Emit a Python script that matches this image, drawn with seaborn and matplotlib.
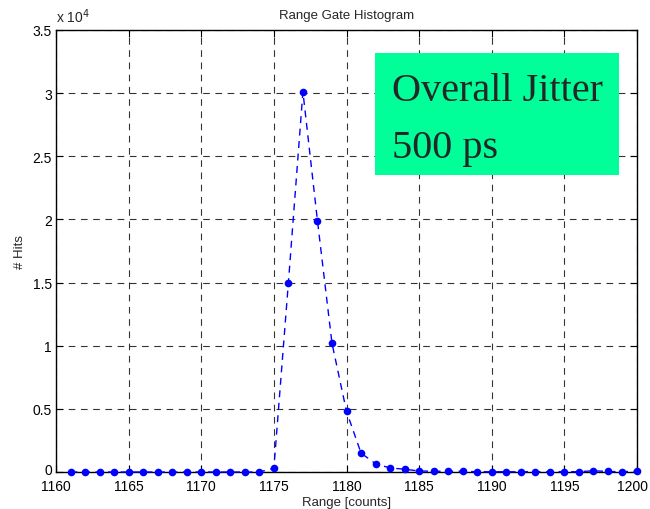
import matplotlib
matplotlib.use("Agg")
import matplotlib.pyplot as plt
import matplotlib.transforms as mtransforms
import seaborn as sns
import pandas as pd

# Range gate bins and hit counts
range_counts = list(range(1161, 1201))
hits = [0, 0, 0, 0, 0, 0, 0, 0, 0, 0, 0, 0, 0, 0,
        300, 15000, 30100, 19900, 10200, 4800, 1500, 650, 320, 220,
        80, 60, 60, 60, 20, 20, 20, 20, 20, 20, 30, 20, 100, 40, 20, 80]
y_ticks = [0, 5000, 10000, 15000, 20000, 25000, 30000, 35000]
y_tick_labels = ["0", "0.5", "1", "1.5", "2", "2.5", "3", "3.5"]
x_ticks = [1160, 1165, 1170, 1175, 1180, 1185, 1190, 1195, 1200]

df = pd.DataFrame({"range": range_counts, "hits": hits})

sns.set_theme(style="white")
plt.rcParams["font.family"] = ["Liberation Sans", "DejaVu Sans"]

fig = plt.figure(figsize=(6.5, 5.1), dpi=100)
ax = fig.add_axes([56 / 650, 1 - 473 / 510, (637 - 56) / 650, (473 - 31) / 510])

sns.lineplot(data=df, x="range", y="hits", ax=ax, color="#0000ff",
             linestyle=(0, (5, 4)), linewidth=1.0, marker="o",
             markersize=5.5, markeredgewidth=0, clip_on=False, zorder=3)

ax.set_xlim(1160, 1200)
ax.set_ylim(0, 35000)
ax.set_xticks(x_ticks)
ax.set_xticklabels([str(t) for t in x_ticks])
ax.set_yticks(y_ticks)
ax.set_yticklabels(y_tick_labels)
ax.tick_params(direction="in", length=5, width=0.8, colors="black",
               labelsize=10, top=True, right=True, bottom=True, left=True)
ax.tick_params(axis="x", pad=5)
ax.tick_params(axis="y", pad=3)
for s in ax.spines.values():
    s.set_color("black")
    s.set_linewidth(1.0)
    s.set_visible(True)

# keep the last x tick label inside the figure, lift the y "0" off the x labels
last = ax.get_xticklabels()[-1]
last.set_transform(last.get_transform() +
                   mtransforms.ScaledTranslation(-4 / 100, 0, fig.dpi_scale_trans))
zero = ax.get_yticklabels()[0]
zero.set_transform(zero.get_transform() +
                   mtransforms.ScaledTranslation(0, 3 / 100, fig.dpi_scale_trans))

ax.grid(True, color="black", linestyle=(0, (6, 5)), linewidth=0.8, alpha=0.8)
ax.set_axisbelow(True)

ax.set_xlabel("Range [counts]", fontsize=9.5, labelpad=2.5)
ax.set_ylabel("# Hits", fontsize=9.5, labelpad=5)
ax.set_title("Range Gate Histogram", fontsize=9.5, pad=9)
ax.text(0.0, 1.012, r"x 10$^4$", transform=ax.transAxes, fontsize=10,
        ha="left", va="bottom")

# Jitter annotation box
fig.patches.append(plt.Rectangle((375 / 650, 1 - 176 / 510), 244 / 650, 122 / 510,
                                 transform=fig.transFigure, facecolor="#00ff99",
                                 edgecolor="none", zorder=5))
fig.text(392 / 650, 1 - 101 / 510, "Overall Jitter", fontsize=29,
         family=["Liberation Serif", "DejaVu Serif"], ha="left", va="baseline", zorder=6)
fig.text(392 / 650, 1 - 158 / 510, "500 ps", fontsize=29,
         family=["Liberation Serif", "DejaVu Serif"], ha="left", va="baseline", zorder=6)

fig.savefig("out.png", dpi=100, facecolor="white")
